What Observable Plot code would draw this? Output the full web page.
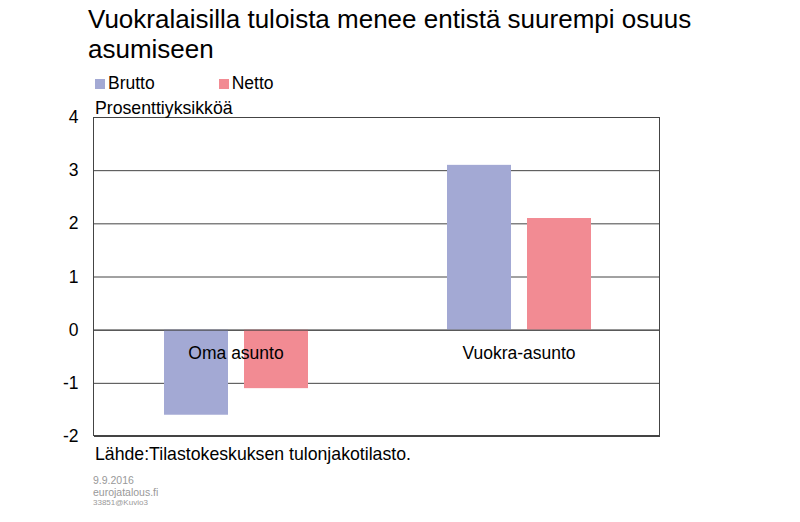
<!DOCTYPE html>
<html>
<head>
<meta charset="utf-8">
<script src="https://cdn.jsdelivr.net/npm/d3@7"></script>
<script src="https://cdn.jsdelivr.net/npm/@observablehq/plot@0.6"></script>
<style>
  body { margin: 0; background: #fff; font-family: "Liberation Sans", Arial, sans-serif; }
  #wrap { position: relative; width: 800px; height: 522px; overflow: hidden; }
  .abs { position: absolute; white-space: nowrap; color: #000; }
  #title { left: 88px; top: 4px; font-size: 26px; line-height: 30px; white-space: normal; width: 660px; }
  #legend { left: 95px; top: 73px; font-size: 17.5px; }
  .sw { display: inline-block; width: 10px; height: 10px; margin-right: 3px; vertical-align: 0px; }
  #ylab { left: 95px; top: 98px; font-size: 17.7px; }
  #source { left: 95px; top: 444px; font-size: 17.7px; }
  .foot { left: 93px; color: #999; }
  #plot { position: absolute; left: 0; top: 0; }
  #frame { position: absolute; left: 93px; top: 117px; width: 567px; height: 319px; border: 1px solid #444; box-sizing: border-box; pointer-events: none; }
</style>
</head>
<body>
<div id="wrap">
  <div id="plot"></div>
  <div id="frame"></div>
  <div class="abs" id="title">Vuokralaisilla tuloista menee entistä suurempi osuus asumiseen</div>
  <div class="abs" id="legend"></div>
  <div class="abs" id="ylab">Prosenttiyksikköä</div>
  <div class="abs" id="source">Lähde:Tilastokeskuksen tulonjakotilasto.</div>
  <div class="abs foot" style="top:474px;font-size:10.5px;">9.9.2016</div>
  <div class="abs foot" style="top:486px;font-size:10.5px;">eurojatalous.fi</div>
  <div class="abs foot" style="top:498px;font-size:8px;">33851@Kuvio3</div>
</div>
<script>
const categories = ["Oma asunto", "Vuokra-asunto"];
const seriesNames = ["Brutto", "Netto"];
const brutto = [-1.6, 3.1];
const netto = [-1.1, 2.1];
const colors = ["#a3a9d4", "#f28b93"];
const yTicks = [-2, -1, 0, 1, 2, 3, 4];

const data = [];
categories.forEach((c, i) => {
  data.push({category: c, series: "Brutto", value: brutto[i]});
  data.push({category: c, series: "Netto", value: netto[i]});
});

const legend = document.getElementById("legend");
seriesNames.forEach((s, i) => {
  const span = document.createElement("span");
  span.style.marginRight = i === 0 ? "64px" : "0";
  span.innerHTML = `<span class="sw" style="background:${colors[i]}"></span>${s}`;
  legend.appendChild(span);
});

const chart = Plot.plot({
  width: 800,
  height: 522,
  marginTop: 117,
  marginLeft: 93,
  marginRight: 140,
  marginBottom: 86,
  style: {fontFamily: "Liberation Sans, Arial, sans-serif", fontSize: "17.5px", color: "#000", background: "transparent"},
  fx: {domain: categories, padding: 0, axis: null},
  x: {domain: seriesNames, paddingInner: 0.2, paddingOuter: 0.85, axis: null},
  y: {domain: [-2, 4], ticks: yTicks, tickSize: 0, tickPadding: 16, tickFormat: d => d.toString(), label: null},
  color: {domain: seriesNames, range: colors},
  marks: [
    Plot.gridY(yTicks, {stroke: "#444", strokeOpacity: 1}),
    Plot.barY(data, {fx: "category", x: "series", y: "value", fill: "series"}),
    Plot.ruleY([0], {stroke: "#444"}),
    Plot.text(categories, {fx: d => d, frameAnchor: "middle", y: 0, dy: 23, text: d => d, fontSize: 17.5, fill: "#000"})
  ]
});
document.getElementById("plot").appendChild(chart);
</script>
</body>
</html>
